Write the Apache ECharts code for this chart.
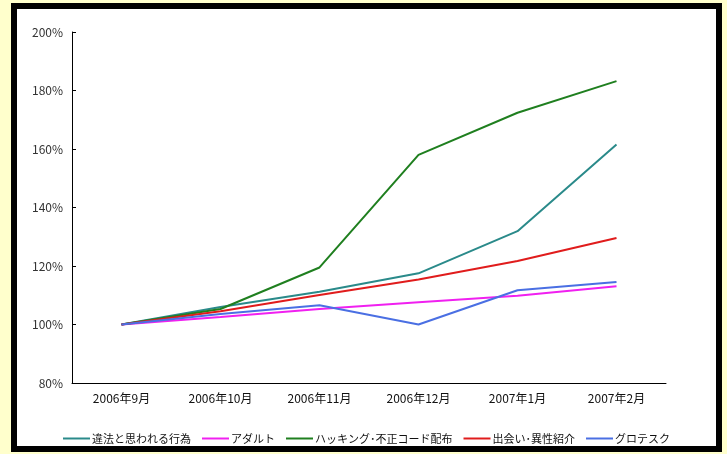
<!DOCTYPE html>
<html>
<head>
<meta charset="utf-8">
<script src="https://cdn.jsdelivr.net/npm/echarts@6/dist/echarts.min.js"></script>
<style>
  html, body { margin: 0; padding: 0; background: #ffffcc; width: 727px; height: 454px; overflow: hidden; }
  #frame {
    position: absolute; left: 11px; top: 3px; width: 699px; height: 437px;
    border: 6px solid #000; background: #fff;
  }
  #chart { position: absolute; left: 0; top: 0; width: 727px; height: 454px; }
</style>
</head>
<body>
<div id="frame"></div>
<div id="chart"></div>
<script>
// 月
const months = ['2006年9月', '2006年10月', '2006年11月', '2006年12月', '2007年1月', '2007年2月'];

// 各カテゴリの推移（2006年9月 = 100%）
const illegal = [100, 106, 111.2, 117.5, 131.9, 161.5];    // 違法と思われる行為
const adult = [100, 102.6, 105.3, 107.6, 109.8, 113.1];     // アダルト
const hacking = [100, 105.3, 119.5, 158, 172.4, 183.2];     // ハッキング･不正コード配布
const dating = [100, 104.5, 110.1, 115.4, 121.7, 129.6];    // 出会い･異性紹介
const grotesque = [100, 103.6, 106.6, 100, 111.7, 114.5];   // グロテスク

const yTicks = { min: 80, max: 200, interval: 20 };

const names = ['違法と思われる行為', 'アダルト', 'ハッキング･不正コード配布', '出会い･異性紹介', 'グロテスク'];
const values = [illegal, adult, hacking, dating, grotesque];
const colors = ['#2a8a8a', '#f020f0', '#1f7f1f', '#e01c1c', '#4a6fe3'];

const font = '"Noto Sans CJK JP", sans-serif';

const option = {
  animation: false,
  backgroundColor: 'transparent',
  color: colors,
  grid: { left: 72, right: 61, top: 32, bottom: 71 },
  legend: {
    data: names,
    left: 58,
    top: 428,
    icon: 'rect',
    itemWidth: 27,
    itemHeight: 2,
    itemGap: 11,
    textStyle: { fontFamily: font, fontSize: 11, color: '#111', padding: [0, 0, 0, -3] },
  },
  xAxis: {
    type: 'category',
    data: months,
    axisLine: { lineStyle: { color: '#000', width: 1 } },
    axisTick: { inside: true, length: 4, lineStyle: { color: '#000' } },
    axisLabel: { fontFamily: font, fontSize: 12, color: '#111', margin: 9 },
  },
  yAxis: {
    type: 'value',
    min: yTicks.min,
    max: yTicks.max,
    interval: yTicks.interval,
    splitLine: { show: false },
    axisLine: { show: true, lineStyle: { color: '#000', width: 1 } },
    axisTick: { show: true, inside: true, length: 4, lineStyle: { color: '#000' } },
    axisLabel: { formatter: '{value}%', fontFamily: font, fontSize: 12, color: '#333', margin: 9 },
  },
  series: names.map((name, i) => ({
    name,
    type: 'line',
    data: values[i],
    symbol: 'none',
    lineStyle: { width: 2 },
  })),
};

const chart = echarts.init(document.getElementById('chart'));
chart.setOption(option);
</script>
</body>
</html>
